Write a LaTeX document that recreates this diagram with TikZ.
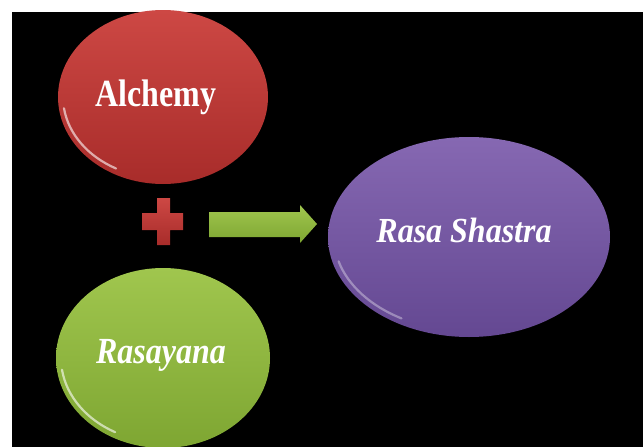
\documentclass[tikz,border=0pt]{standalone}
\usepackage{fontspec}
\setmainfont{Liberation Serif}
\usetikzlibrary{shapes.geometric}
\definecolor{redT}{RGB}{205,72,68}
\definecolor{redB}{RGB}{168,44,42}
\definecolor{grnT}{RGB}{160,198,78}
\definecolor{grnB}{RGB}{126,166,50}
\definecolor{purT}{RGB}{134,104,178}
\definecolor{purB}{RGB}{100,72,146}
\tikzset{
  bubble/.style={ellipse, inner sep=0pt},
  lbl/.style={text=white, font=\bfseries\fontsize{32}{36}\selectfont},
  gloss/.style={white, opacity=0.6, line width=2.2pt, line cap=round}
}
\begin{document}
\begin{tikzpicture}[x=1pt,y=-1pt]
\useasboundingbox (0,0) rectangle (643,447);
\fill[white] (0,0) rectangle (643,447);
\fill[black] (12,12) rectangle (643,447);
\begin{scope}
\clip (0,0) rectangle (643,447);
% Alchemy
\node[bubble, minimum width=210pt, minimum height=174pt, top color=redT, bottom color=redB] (alc) at (163,97) {};
\draw[gloss] (alc.center) ++(172:100 and 81) arc[start angle=172, end angle=118, x radius=100, y radius=81];
% Rasayana
\node[bubble, minimum width=214pt, minimum height=180pt, top color=grnT, bottom color=grnB] (ras) at (163,358) {};
\draw[gloss] (ras.center) ++(172:102 and 84) arc[start angle=172, end angle=118, x radius=102, y radius=84];
% Rasa Shastra
\node[bubble, minimum width=282pt, minimum height=200pt, top color=purT, bottom color=purB] (rs) at (469,237) {};
\draw[gloss, opacity=0.35] (rs.center) ++(165:135 and 94) arc[start angle=165, end angle=120, x radius=135, y radius=94];
\end{scope}
% labels
\node[lbl] (talc) at (156,97) {\scalebox{1}[1.2]{Alchemy}};
\node[lbl] (tras) at (161,355) {\scalebox{1}[1.15]{\itshape Rasayana}};
\node[lbl] (trs) at (464,230) {\scalebox{1}[1.1]{\itshape Rasa Shastra}};
% plus
\fill[top color=redT, bottom color=redB]
  (157,198) -- (170,198) -- (170,213) -- (183,213) -- (183,230) -- (170,230) -- (170,245) -- (157,245) -- (157,230) -- (142,230) -- (142,213) -- (157,213) -- cycle;
\coordinate (plus) at (162,222);
% arrow
\coordinate (arrS) at (209,224);
\coordinate (arrE) at (317,224);
\fill[top color=grnT, bottom color=grnB]
  (209,212) -- (300,212) -- (300,205) -- (317,224) -- (300,243) -- (300,237) -- (209,237) -- cycle;
\end{tikzpicture}
\end{document}
